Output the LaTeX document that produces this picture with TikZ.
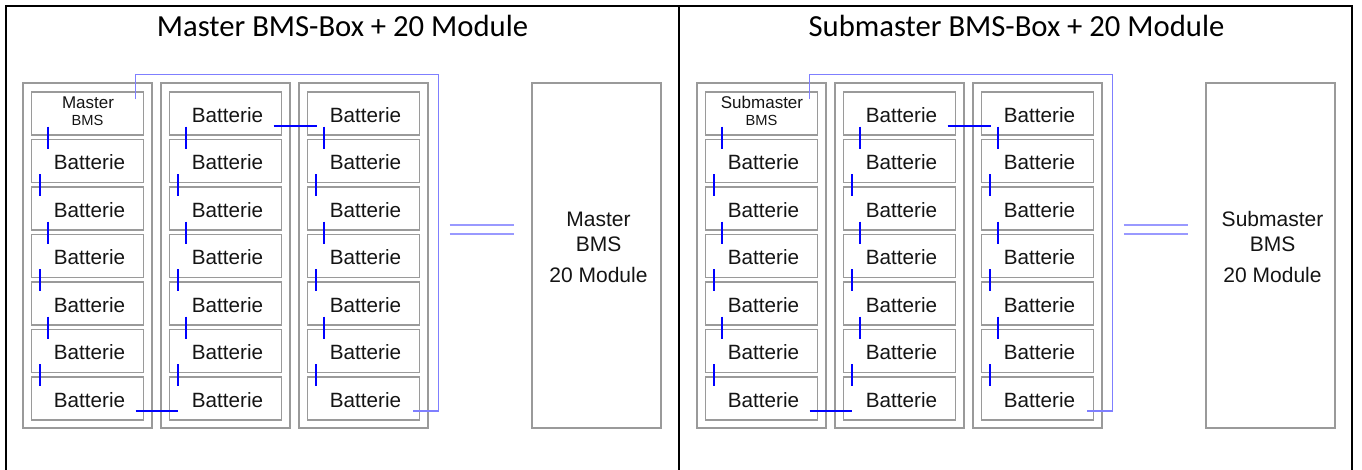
\documentclass[tikz,border=0pt]{standalone}
\usepackage{fontspec}
\setmainfont{Liberation Sans}
\newfontfamily\titlefont{Carlito}
\usetikzlibrary{calc}
\definecolor{boxgray}{HTML}{9A9A9A}
\definecolor{tickblue}{HTML}{0000FF}
\definecolor{loopblue}{HTML}{7F7FFF}
\definecolor{dblblue}{HTML}{9999FF}
\definecolor{txt}{HTML}{141414}
\begin{document}
\begin{tikzpicture}[x=0.75pt,y=-0.75pt,
  cell/.style={draw=boxgray,line width=1.1pt,minimum width=84pt,minimum height=32.25pt,inner sep=0pt},
  celltxt/.style={font=\fontsize{15.5}{18}\selectfont,text=txt,inner sep=0pt},
  colbox/.style={draw=boxgray,line width=1.1pt,minimum width=96.75pt,minimum height=258.75pt,inner sep=0pt},
  bigtxt/.style={font=\fontsize{15.75}{18}\selectfont,text=txt,inner sep=0pt,anchor=base},
  tick/.style={draw=tickblue,line width=1.5pt},
  loopline/.style={draw=loopblue,line width=0.8pt},
  dbl/.style={draw=dblblue,line width=1.1pt},
  frame/.style={draw=black,line width=1.6pt},
  titletxt/.style={font=\titlefont\fontsize{23}{27}\selectfont,text=black,anchor=base,inner sep=0pt}]
\useasboundingbox (0,0) rectangle (1362,470);
% table frame
\draw[frame] (6,470) -- (6,6) -- (1352,6) -- (1352,470);
\draw[frame] (679,6) -- (679,470);
\foreach \p/\ox/\lab in {L/0/Master,R/674/Submaster}{
  \node[titletxt] (\p title) at (342.5+\ox,37) {\lab\ BMS-Box + 20 Module};
  \foreach \c in {0,1,2}{
    \node[colbox] (\p col\c) at (87.5+138*\c+\ox,255.5) {};
    \foreach \r in {0,...,6}{
      \node[cell] (\p c\c r\r) at (87.5+138*\c+\ox,113.5+47.5*\r) {};
      \ifnum\c=0 \ifnum\r=0 \else
        \node[celltxt] (\p c\c r\r t) at ($(\p c\c r\r.center)+(2,1.5)$) {Batterie};
      \fi
      \else
        \node[celltxt] (\p c\c r\r t) at ($(\p c\c r\r.center)+(2,1.5)$) {Batterie};
      \fi
    }
    \foreach \r in {0,2,4}{
      \draw[tick] ($(\p c\c r\r.south west)+(17.5,-9)$) -- ++(0,22);
    }
    \foreach \r in {1,3,5}{
      \draw[tick] ($(\p c\c r\r.south west)+(9,-9)$) -- ++(0,22);
    }
  }
  \node[font=\fontsize{12.75}{14}\selectfont,text=txt,anchor=base,inner sep=0pt] (\p bmsA) at ($(\p c0r0.north)+(0.5,17)$) {\lab};
  \node[font=\fontsize{11}{13}\selectfont,text=txt,anchor=base,inner sep=0pt] (\p bmsB) at ($(\p c0r0.north)+(0,34)$) {BMS};
  % big box
  \node[colbox] (\p big) at (596.5+\ox,255.5) {};
  \node[bigtxt] (\p t1) at ($(\p big.center)+(2,-28.5)$) {\lab};
  \node[bigtxt] (\p t2) at ($(\p big.center)+(2,-3.5)$) {BMS};
  \node[bigtxt] (\p t3) at ($(\p big.center)+(2,26.5)$) {20 Module};
  % connectors
  \draw[tick] ($(\p c0r6.east)+(-8.5,12.5)$) -- ($(\p c1r6.west)+(9,12.5)$);
  \draw[tick] ($(\p c1r0.east)+(-8.5,12.5)$) -- ($(\p c2r0.west)+(10,12.5)$);
  \coordinate (\p lt) at ($(\p c2r0.north east)+(18.5,-17)$);
  \draw[loopline] ($(\p c0r0.north east)+(-8.5,8)$) |- (\p lt) |- ($(\p c2r6.east)+(-7.5,12.5)$);
  \draw[dbl] ($(\p col2.east)+(21,-30.5)$) -- ($(\p big.west)+(-17,-30.5)$);
  \draw[dbl] ($(\p col2.east)+(21,-21.5)$) -- ($(\p big.west)+(-17,-21.5)$);
}
\end{tikzpicture}
\end{document}
